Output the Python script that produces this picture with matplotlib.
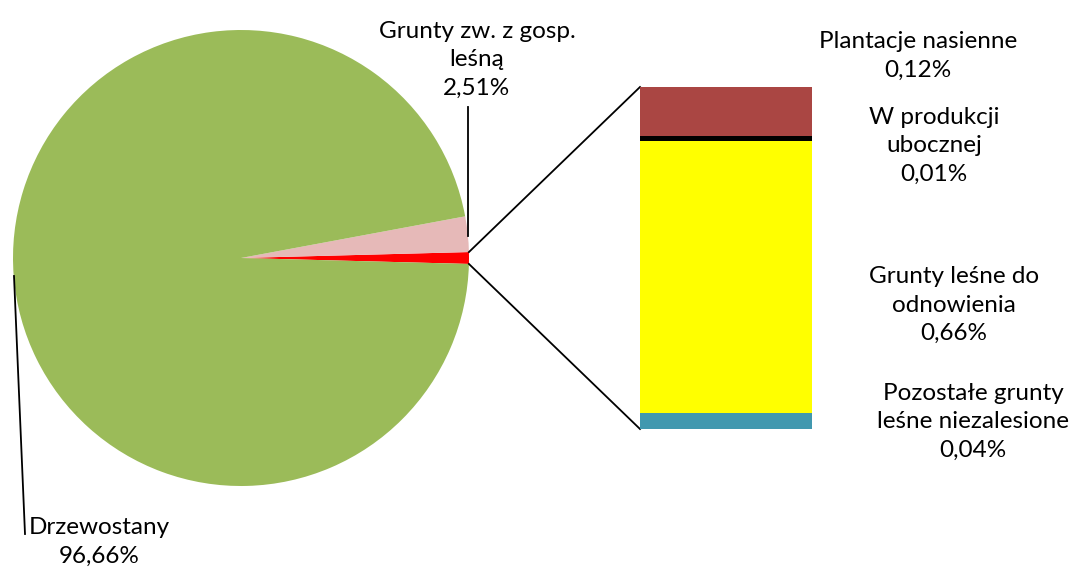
import numpy as np
import matplotlib
matplotlib.use("Agg")
import matplotlib.pyplot as plt

plt.rcParams["font.family"] = ["Lato", "DejaVu Sans"]

# main pie: other forest land (sum of the bar), special-use land, stands
pie_labels = ["Pozostałe", "Grunty zw. z gosp.\nleśną", "Drzewostany"]
pie_values = [0.83, 2.51, 96.66]
pie_colors = ["#FF0000", "#E6B9B8", "#9BBB59"]

# secondary bar, from bottom to top
bar_labels = ["Pozostałe grunty\nleśne niezalesione", "Grunty leśne do\nodnowienia",
              "W produkcji\nubocznej", "Plantacje nasienne"]
bar_values = [0.04, 0.66, 0.01, 0.12]
bar_colors = ["#4198AF", "#FFFF00", "#000000", "#AA4643"]

W, H = 1079, 572


def pct(v):
    return f"{v:.2f}%".replace(".", ",")


fig = plt.figure(figsize=(W / 100, H / 100), dpi=100)
ax = fig.add_axes([0, 0, 1, 1])

cx, cy, r = 241, H - 258, 228
start = -360 * pie_values[0] / 100 / 2
ax.pie(pie_values, colors=pie_colors, startangle=start, counterclock=True,
       center=(cx, cy), radius=r, wedgeprops=dict(linewidth=0))
ax.set_xlim(0, W)
ax.set_ylim(0, H)
ax.set_aspect("equal")
ax.axis("off")

# bar of pie
bx0, bx1, by0, by1 = 640, 812, H - 429, H - 87
bax = fig.add_axes([bx0 / W, by0 / H, (bx1 - bx0) / W, (by1 - by0) / H])
bottom = 0
for v, c in zip(bar_values, bar_colors):
    bax.bar(0, v, width=1, bottom=bottom, color=c, linewidth=0)
    bottom += v
bax.set_xlim(-0.5, 0.5)
bax.set_ylim(0, sum(bar_values))
bax.axis("off")

# connector lines
a = np.deg2rad(start)
ax.plot([cx + r * np.cos(-a), bx0], [cy + r * np.sin(-a), by1], color="black", lw=1.3)
ax.plot([cx + r * np.cos(a), bx0], [cy + r * np.sin(a), by0], color="black", lw=1.3)

fs = 17.5
ls = 1.45
# pie labels with leader lines
ax.text(477, H - 60, pie_labels[1] + "\n" + pct(pie_values[1]), ha="center", va="center",
        fontsize=fs, linespacing=ls)
ax.plot([468, 468], [H - 107, H - 236], color="black", lw=1.3)
ax.text(99, H - 542, pie_labels[2] + "\n" + pct(pie_values[2]), ha="center", va="center",
        fontsize=fs, linespacing=ls)
ax.plot([14, 25], [H - 276, H - 534], color="black", lw=1.3)

# bar labels
bar_pos = [(973, H - 422), (954, H - 305), (934, H - 146), (918, H - 56)]
for lab, v, (x, y) in zip(bar_labels, bar_values, bar_pos):
    ax.text(x, y, lab + "\n" + pct(v), ha="center", va="center", fontsize=fs, linespacing=ls)

fig.savefig("out.png", dpi=100)
